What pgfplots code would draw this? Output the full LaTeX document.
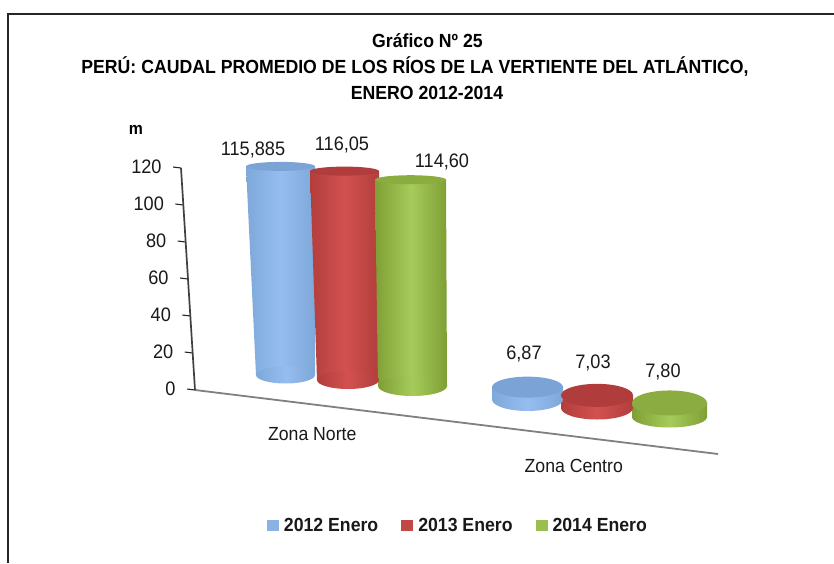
\documentclass[border=0pt]{standalone}
\usepackage{fontspec}
\setmainfont[FakeStretch=0.93]{Liberation Sans}
\usepackage{pgfplots}
\pgfplotsset{compat=1.18}
\definecolor{bluel}{HTML}{7FA8DA}\definecolor{bluem}{HTML}{95BDF0}\definecolor{bluet}{HTML}{7BA3D6}
\definecolor{redl}{HTML}{B23E3C}\definecolor{redm}{HTML}{D25150}\definecolor{redt}{HTML}{B03C3C}
\definecolor{greenl}{HTML}{7F9F35}\definecolor{greenm}{HTML}{A6CB5B}\definecolor{greent}{HTML}{8BAC40}
\tikzset{capx/.store in=\capx, capy/.store in=\capy, capst/.style={},
  sh/.style={shade, left color=#1l, right color=#1l, middle color=#1m, draw=none}}
\pgfdeclareplotmark{cap}{\path[capst] (0pt,0pt) ellipse [x radius=\capx pt, y radius=\capy pt];}
% #1 colour, #2 centre x, #3 value, #4 half width, #5 half height, #6 pixel shift
\newcommand\cylbase[6]{\addplot[forget plot, only marks, mark=cap, yshift=#6pt,
  mark options={capx=#4, capy=#5, capst/.style={sh=#1}}] coordinates {(#2,#3)};}
% #1 colour, #2 xTL, #3 xTR, #4 xBL, #5 xBR, #6 value, #7 pixel shift
\newcommand\cylbody[7]{\addplot[forget plot, sh=#1, yshift=#7pt] coordinates {(#2,#6) (#3,#6) (#5,0) (#4,0) (#2,#6)};}
% #1 colour, #2 centre x, #3 value, #4 half width, #5 half height, #6 pixel shift, #7 label, #8 dx, #9 dy
\newcommand\cyltop[9]{\addplot[forget plot, only marks, mark=cap, yshift=#6pt,
  mark options={capx=#4, capy=#5, capst/.style={fill=#1t, draw=none}},
  nodes near coords={#7}, nodes near coords style={anchor=center, xshift=#8pt, yshift=#9pt, font=\fontsize{19.5}{22}\selectfont, text=black!90}] coordinates {(#2,#3)};}
\begin{document}
\begin{tikzpicture}[x=1pt,y=1pt]
\path[use as bounding box] (0,0) rectangle (834,563);
\draw[line width=1.6pt, black!85] (8,0) -- (8,549) -- (834,549);
\begin{axis}[at={(195pt,173pt)}, anchor=origin,
  x={(261.5pt,-32pt)}, y={(-0.1167pt,1.85pt)},
  xmin=0, xmax=2, ymin=0, ymax=120,
  axis x line*=bottom, axis y line*=left,
  y axis line style={line width=1.7pt, black!75, -},
  x axis line style={line width=1.8pt, black!50, -},
  ytick={0,20,...,120}, xtick={0.5,1.5},
  xticklabels={Zona Norte, Zona Centro},
  y tick style={line width=1.1pt, black!85},
  x tick style={draw=none},
  tick align=outside, major tick length=8pt,
  /pgf/number format/assume math mode=true,
  yticklabel style={font=\fontsize{19.5}{22}\selectfont, anchor=east, xshift=-8pt, text=black!90},
  xticklabel style={font=\fontsize{19}{22}\selectfont, anchor=center, xshift=-14pt, yshift=-20pt, text=black!90},
  clip=false]
\addplot[draw=none, forget plot] coordinates {(0,0) (2,120)};
\end{axis}
\begin{axis}[at={(0pt,0pt)}, anchor=south west, x=1pt, y=1.8pt,
  xmin=0, xmax=834, ymin=-96.11, ymax=216.67, hide axis, clip=false,
  legend columns=3,
  legend style={at={(267/834,37.5/563)}, anchor=west, draw=none, fill=none, inner sep=0pt, outer sep=0pt,
    font=\bfseries\fontsize{19}{22}\selectfont, text=black!90,
    /tikz/every odd column/.style={column sep=3pt},
    /tikz/every even column/.style={column sep=21pt}},
  legend image code/.code={\fill[#1] (0pt,-5.5pt) rectangle (12pt,5.5pt);}]
\addlegendimage{draw=none, fill=bluem!50!bluel}\addlegendentry{2012 Enero}
\addlegendimage{draw=none, fill=redl!50!redm}\addlegendentry{2013 Enero}
\addlegendimage{draw=none, fill=greenl!30!greenm}\addlegendentry{2014 Enero}
% Zona Norte (body from the base pixel row)
\cylbase{blue}{285.5}{0}{29.5}{8.5}{15}
\cylbody{blue}{246}{315}{256}{315}{115.885}{15}
\cyltop{blue}{280.5}{115.885}{34.5}{4.5}{15}{115,885}{-27.5}{16}
\cylbase{red}{348}{0}{31}{9}{10}
\cylbody{red}{310}{379}{317}{379}{116.05}{10}
\cyltop{red}{344.5}{116.05}{34.5}{4.5}{10}{116,05}{-2.5}{26.5}
\cylbase{green}{412.5}{0}{34.5}{10}{4}
\cylbody{green}{375}{446}{378}{447}{114.60}{4}
\cyltop{green}{410.5}{114.60}{35.5}{4.5}{4}{114,60}{31.5}{18}
% Zona Centro
\cylbase{blue}{527.5}{0}{35.5}{11.5}{-9.5}
\cylbody{blue}{492}{563}{492}{563}{6.87}{-9.5}
\cyltop{blue}{527.5}{6.87}{35.5}{10.5}{-9.5}{6,87}{-3.5}{33}
\cylbase{red}{597}{0}{36}{11.5}{-18}
\cylbody{red}{561}{633}{561}{633}{7.03}{-18}
\cyltop{red}{597}{7.03}{36}{11.5}{-18}{7,03}{-4}{32}
\cylbase{green}{669.5}{0}{37.5}{10.5}{-27}
\cylbody{green}{632}{707}{632}{707}{7.80}{-27}
\cyltop{green}{669.5}{7.80}{37.5}{12.5}{-27}{7,80}{-6.5}{31}
\end{axis}
\node[font=\bfseries\fontsize{19}{22}\selectfont] at (427.5,522) {Gráfico Nº 25};
\node[font=\bfseries\fontsize{19}{22}\selectfont] at (415,496) {PERÚ: CAUDAL PROMEDIO DE LOS RÍOS DE LA VERTIENTE DEL ATLÁNTICO,};
\node[font=\bfseries\fontsize{19}{22}\selectfont] at (427,470) {ENERO 2012-2014};
\node[font=\bfseries\fontsize{17}{20}\selectfont] at (136,433) {m};
\end{tikzpicture}
\end{document}
